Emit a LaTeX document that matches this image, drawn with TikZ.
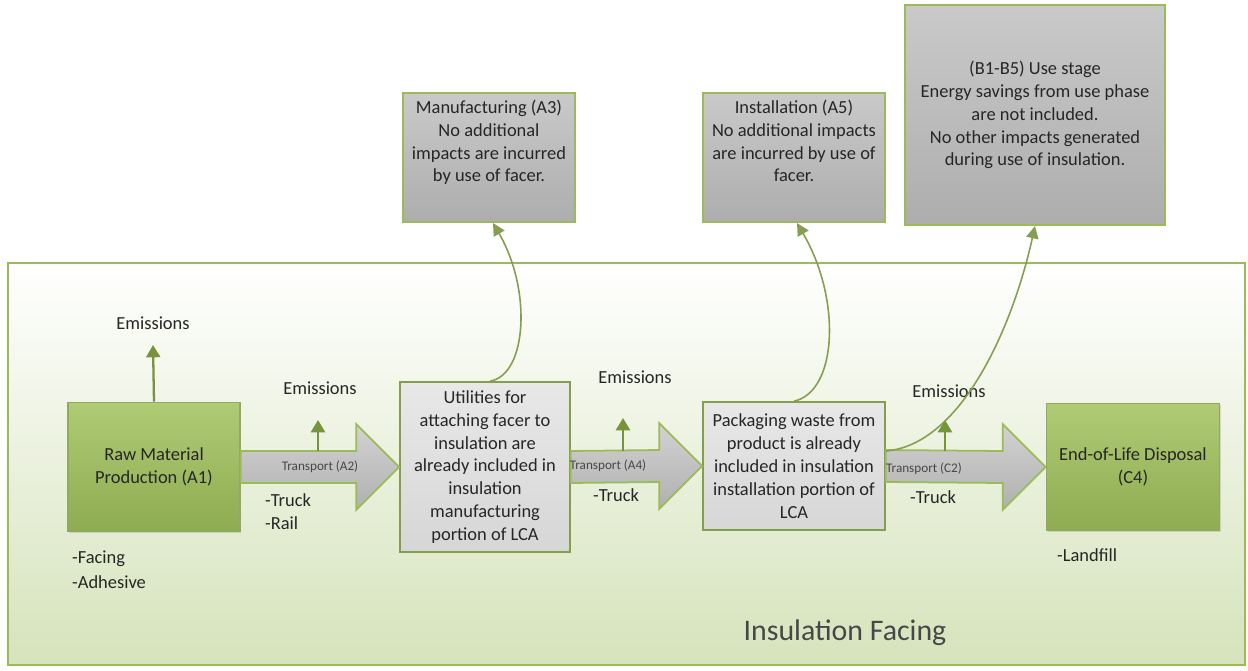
\documentclass[tikz,border=0pt]{standalone}
\usepackage{fontspec}
\setmainfont{Carlito}
\usetikzlibrary{calc,arrows.meta,shadows}
\definecolor{leaf}{HTML}{9BBB59}
\definecolor{leafdark}{HTML}{77933C}
\definecolor{leaflight}{HTML}{AFCB74}
\definecolor{panelbot}{HTML}{D6E3BB}
\definecolor{ink}{HTML}{262626}

% block arrow from one stage to the next
\newcommand{\transport}[2]{%
\filldraw[truck] ($(#1.east)+(0,-16)$) -- ($(#2.west)+(-43,-16)$) -- ($(#2.west)+(-43,-43)$)
  -- (#2.west) -- ($(#2.west)+(-43,43)$) -- ($(#2.west)+(-43,16)$) -- ($(#1.east)+(0,16)$) -- cycle;}

\begin{document}
\begin{tikzpicture}[x=0.02cm, y=-0.02cm, font=\fontsize{10.5}{13}\selectfont, text=ink,
  shadowed/.style={drop shadow={opacity=.25, shadow xshift=.8pt, shadow yshift=-.8pt}},
  stage/.style={shadowed, draw=leafdark!80, line width=1pt, top color=leaflight, bottom color=leaf!92!black, align=center},
  note/.style={shadowed, draw=leaf, line width=1.2pt, top color=gray!42, bottom color=gray!64, align=center},
  inbox/.style={shadowed, draw=leaf!85!black, line width=1pt, top color=gray!18, bottom color=gray!32, align=center},
  truck/.style={top color=gray!35, bottom color=gray!62, draw=leaf, line width=1pt},
  emis/.style={leafdark, line width=1.3pt, -{Triangle[width=8pt,length=7pt]}},
  link/.style={leafdark!90, line width=.9pt, -{Triangle[width=7pt,length=7pt]}},
  tiny/.style={font=\fontsize{7.5}{8}\selectfont, text=ink!85},
  list/.style={align=left, anchor=west}]

\useasboundingbox (0,0) rectangle (1248,670);

% background panel
\node[draw=leaf, line width=1pt, top color=white, bottom color=panelbot, minimum width=24.74cm, minimum height=8.04cm, inner sep=0] (panel) at (626.5,464) {};
\node[font=\fontsize{17}{20}\selectfont, text=ink!85] (title) at (845,633) {Insulation Facing};

% stages
\node[stage, minimum width=3.44cm, minimum height=2.58cm] (raw) at (154,467) {Raw Material\\Production (A1)};
\node[inbox, minimum width=3.4cm, minimum height=3.4cm] (util) at (485,467) {Utilities for\\attaching facer to\\insulation are\\already included in\\insulation\\manufacturing\\portion of LCA};
\node[inbox, minimum width=3.64cm, minimum height=2.56cm] (pack) at (794,466) {Packaging waste from\\product is already\\included in insulation\\installation portion of\\LCA};
\node[stage, minimum width=3.46cm, minimum height=2.54cm] (eol) at (1133,467) {End-of-Life Disposal\\(C4)};

% notes above
\node[note, minimum width=3.44cm, minimum height=2.58cm] (a3) at (489,157.5) {};
\node[align=center, below=1pt] (a3txt) at (a3.north) {Manufacturing (A3)\\No additional\\impacts are incurred\\by use of facer.};
\node[note, minimum width=3.64cm, minimum height=2.58cm] (a5) at (794,157.5) {};
\node[align=center, below=1pt] (a5txt) at (a5.north) {Installation (A5)\\No additional impacts\\are incurred by use of\\facer.};
\node[note, minimum width=5.2cm, minimum height=4.4cm] (use) at (1035,115) {(B1-B5) Use stage\\Energy savings from use phase\\are not included.\\No other impacts generated\\during use of insulation.};

% transport
\transport{raw}{util}
\transport{util}{pack}
\transport{pack}{eol}
\node[tiny] (t2) at (320,467) {Transport (A2)};
\node[tiny] (t4) at (608,466) {Transport (A4)};
\node[tiny] (c2) at (924,469) {Transport (C2)};

% emissions
\node (em1) at (153,323) {Emissions};
\node (em2) at (320,388) {Emissions};
\node (em4) at (635,377) {Emissions};
\node (em5) at (949,391) {Emissions};
\coordinate (e1) at (153,345);
\coordinate (e2a) at (318,451); \coordinate (e2) at (318,420);
\coordinate (e4a) at (623,451); \coordinate (e4) at (623,418);
\coordinate (e5a) at (945,451); \coordinate (e5) at (945,420);
\draw[emis] (raw.north) -- (e1);
\draw[emis] (e2a) -- (e2);
\draw[emis] (e4a) -- (e4);
\draw[emis] (e5a) -- (e5);

% inputs and modes
\node[list] (inraw) at (66,570) {-Facing\\[1pt]-Adhesive};
\node[list] (m2) at (259,512) {-Truck\\-Rail};
\node[list] (m4) at (587,495) {-Truck};
\node[list] (m5) at (904,497) {-Truck};
\node[list] (out) at (1051,555) {-Landfill};

% links to the notes
\draw[link] ([xshift=.1cm]util.north) .. controls (527,375) and (532,290) .. ([xshift=.08cm]a3.south);
\draw[link] (pack.north) .. controls (837,392) and (842,300) .. ([xshift=.06cm]a5.south);
\draw[link] ($(pack.east)+(0,-15)$) .. controls (960,445) and (1012,330) .. (use.south);
\end{tikzpicture}
\end{document}
